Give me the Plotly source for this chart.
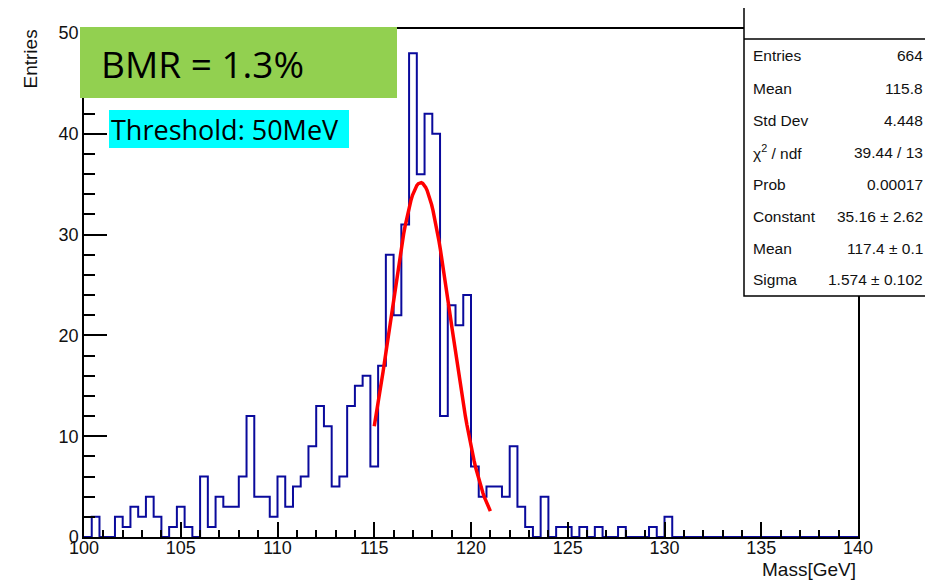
import numpy as np
import plotly.graph_objects as go

# ---------------- data ----------------
BIN_LO = 100.0
BIN_W = 0.4
counts = [
    0, 2, 0, 0, 2, 1, 3, 2, 4, 2,
    0, 1, 3, 1, 0, 6, 1, 4, 3, 3,
    6, 12, 4, 4, 2, 6, 3, 5, 6, 9,
    13, 11, 5, 6, 13, 15, 16, 7, 17, 28,
    22, 31, 48, 36, 42, 40, 12, 23, 21, 24,
    7, 4, 5, 5, 4, 9, 3, 1, 0, 4,
    0, 1, 1, 0, 1, 0, 1, 0, 0, 1,
    0, 0, 0, 1, 0, 2, 0, 0, 0, 0,
    0, 0, 0, 0, 0, 0, 0, 0, 0, 0,
    0, 0, 0, 0, 0, 0, 0, 0, 0, 0,
]
# Gaussian fit parameters (from stats box)
FIT_CONST = 35.16
FIT_MEAN = 117.4
FIT_SIGMA = 1.574
FIT_RANGE = (115.0, 121.0)

stat_labels = ["Entries", "Mean", "Std Dev", "χ<sup>2</sup> / ndf", "Prob",
               "Constant", "Mean", "Sigma"]
stat_values = ["664", "115.8", "4.448", "39.44 / 13", "0.00017",
               "35.16 ± 2.62", "117.4 ± 0.1", "1.574 ± 0.102"]

x_ticks = [100, 105, 110, 115, 120, 125, 130, 135, 140]
y_ticks = [0, 10, 20, 30, 40, 50]

# ---------------- geometry helpers ----------------
# page has an 8px body margin, so the figure is sized to fill the rest
OFF = 8
W, H = 933 - OFF, 583 - OFF
ML, MR, MT, MB = 84 - OFF, 75, 29 - OFF, 46
PW = W - ML - MR
PH = H - MT - MB
X0_PAGE = 84      # page x of plot-area left edge
Y0_PAGE = 537     # page y of plot-area bottom edge


def px(xp):
    return (xp - X0_PAGE) / PW


def py(yp):
    return (Y0_PAGE - yp) / PH


N = len(counts)
edges = [BIN_LO + i * BIN_W for i in range(N + 1)]
hx = [edges[0]] + edges[:N] + [edges[N]]
hy = [0] + counts + [0]

fx = np.linspace(FIT_RANGE[0], FIT_RANGE[1], 80)
fy = FIT_CONST * np.exp(-0.5 * ((fx - FIT_MEAN) / FIT_SIGMA) ** 2)

fig = go.Figure()
fig.add_trace(go.Scatter(x=hx, y=hy, mode="lines", line_shape="hv",
                         line=dict(color="#0a0a9c", width=2),
                         hoverinfo="skip", showlegend=False))
fig.add_trace(go.Scatter(x=fx, y=fy, mode="lines",
                         line=dict(color="#ff0000", width=3.5),
                         hoverinfo="skip", showlegend=False))

tickfont = dict(family="Liberation Sans, Arial, sans-serif", size=18, color="#111")

fig.update_layout(
    width=W, height=H, autosize=False,
    margin=dict(l=ML, r=MR, t=MT, b=MB, pad=0),
    paper_bgcolor="white", plot_bgcolor="white",
    showlegend=False,
    xaxis=dict(range=[100, 140], tickvals=x_ticks, ticks="inside", ticklen=15,
               tickwidth=1.5, tickcolor="black", showline=True, linecolor="black",
               linewidth=1.5, mirror=True, showgrid=False, zeroline=False,
               tickfont=tickfont, ticklabelstandoff=-6,
               minor=dict(dtick=1, ticks="inside", ticklen=7, tickwidth=1.5,
                          tickcolor="black", showgrid=False)),
    yaxis=dict(range=[0, 50.4], tickvals=y_ticks, ticks="inside", ticklen=23,
               tickwidth=1.5, tickcolor="black", showline=True, linecolor="black",
               linewidth=1.5, mirror=True, showgrid=False, zeroline=False,
               tickfont=tickfont,
               minor=dict(dtick=2, ticks="inside", ticklen=11, tickwidth=1.5,
                          tickcolor="black", showgrid=False)),
)

shapes = []
annotations = []

# Stats box
shapes.append(dict(type="rect", xref="paper", yref="paper",
                   x0=px(744), x1=px(945), y0=py(296), y1=py(7),
                   line=dict(color="black", width=1.5), fillcolor="white",
                   layer="above"))
shapes.append(dict(type="line", xref="paper", yref="paper",
                   x0=px(744), x1=px(945), y0=py(39), y1=py(39),
                   line=dict(color="black", width=1.5), layer="above"))
row_y = [55, 88, 120, 152, 184, 216, 248, 279]
statfont = dict(family="Liberation Sans, Arial, sans-serif", size=15.5, color="#111")
for lab, val, yy in zip(stat_labels, stat_values, row_y):
    annotations.append(dict(text=lab, xref="paper", yref="paper", x=px(751),
                            y=py(yy), xanchor="left", yanchor="middle",
                            showarrow=False, font=statfont))
    annotations.append(dict(text=val, xref="paper", yref="paper", x=px(925),
                            y=py(yy), xanchor="right", yanchor="middle",
                            showarrow=False, font=statfont))

# Green BMR box
shapes.append(dict(type="rect", xref="paper", yref="paper",
                   x0=px(80), x1=px(397), y0=py(98), y1=py(27),
                   line=dict(width=0), fillcolor="#92D050", layer="above"))
annotations.append(dict(text="BMR = 1.3%", xref="paper", yref="paper",
                        x=px(99), y=py(64), xanchor="left", yanchor="middle",
                        showarrow=False,
                        font=dict(family="Open Sans, sans-serif", size=37,
                                  color="black")))

# Cyan threshold box
shapes.append(dict(type="rect", xref="paper", yref="paper",
                   x0=px(109), x1=px(349), y0=py(148), y1=py(110),
                   line=dict(width=0), fillcolor="#00FFFF", layer="above"))
annotations.append(dict(text="Threshold: 50MeV", xref="paper", yref="paper",
                        x=px(109), y=py(130), xanchor="left", yanchor="middle",
                        showarrow=False,
                        font=dict(family="Open Sans, sans-serif", size=27,
                                  color="black")))

# Axis titles
titlefont = dict(family="Liberation Sans, Arial, sans-serif", size=19, color="#111")
annotations.append(dict(text="Entries", xref="paper", yref="paper",
                        x=px(30), y=py(28), xanchor="center", yanchor="top",
                        textangle=-90, showarrow=False, font=titlefont))
annotations.append(dict(text="Mass[GeV]", xref="paper", yref="paper",
                        x=px(858), y=py(582), xanchor="right", yanchor="bottom",
                        showarrow=False, font=titlefont))

fig.update_layout(shapes=shapes, annotations=annotations)
fig.write_html("out.html")
